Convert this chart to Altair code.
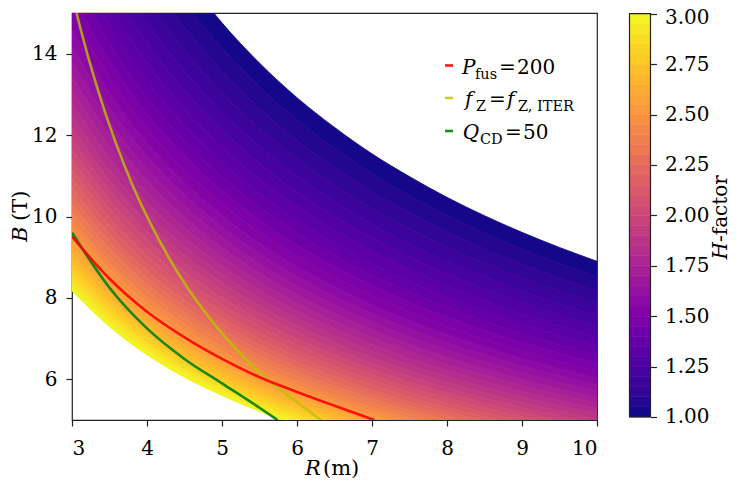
import altair as alt
import numpy as np
import pandas as pd

FONT = "DejaVu Serif"

# ---- contour field: iso-H boundaries (B in T at R in m)
R_grid = [3.0, 3.5, 4.0, 4.5, 5.0, 5.5, 6.0, 6.5, 7.0, 7.5, 8.0, 8.5, 9.0, 9.5, 10.0]
B_at_H1 = [21.43, 19.15, 17.37, 15.94, 14.76, 13.77, 12.92, 12.19, 11.54, 10.98, 10.47, 10.02, 9.61, 9.24, 8.90]
B_at_H3 = [8.17, 7.29, 6.60, 6.05, 5.60, 5.21, 4.89, 4.61, 4.36, 4.14, 3.95, 3.78, 3.62, 3.48, 3.35]
H_levels = [round(1.0 + 0.05 * i, 2) for i in range(41)]

# ---- constraint curves
Pfus_R = [3.0, 3.5, 4.0, 4.5, 5.0, 5.5, 6.0, 6.5, 7.03]
Pfus_B = [9.51, 8.47, 7.66, 7.03, 6.50, 6.05, 5.69, 5.35, 5.0]
fZ_R = [3.06, 3.2, 3.4, 3.6, 3.8, 4.0, 4.3, 4.6, 4.9, 5.2, 5.5, 5.8, 6.05, 6.32]
fZ_B = [15.0, 14.02, 12.79, 11.73, 10.80, 10.0, 8.96, 8.09, 7.35, 6.72, 6.17, 5.72, 5.37, 5.0]
QCD_R = [3.0, 3.5, 4.0, 4.5, 5.0, 5.5, 5.74]
QCD_B = [9.6, 8.25, 7.25, 6.5, 5.9, 5.3, 5.0]

x_ticks = [3, 4, 5, 6, 7, 8, 9, 10]
y_ticks = [6, 8, 10, 12, 14]
cb_ticks = [1.0, 1.25, 1.5, 1.75, 2.0, 2.25, 2.5, 2.75, 3.0]

# ---- build band table
lnB1 = np.log(np.array(B_at_H1))
lnB3 = np.log(np.array(B_at_H3))


def iso(h):
    w = np.log(h) / np.log(3.0)
    return np.exp(lnB1 - w * (lnB1 - lnB3))


rows = []
for lo, hi in zip(H_levels[:-1], H_levels[1:]):
    top, bot = iso(lo), iso(hi)
    for r, t, b in zip(R_grid, top, bot):
        rows.append({"R": r, "top": t, "bot": b, "band": lo, "mid": (lo + hi) / 2})
bands_df = pd.DataFrame(rows)

cb_df = pd.DataFrame({"lo": H_levels[:-1], "hi": H_levels[1:],
                      "mid": [(a + b) / 2 for a, b in zip(H_levels[:-1], H_levels[1:])]})

W, H = 525, 407
xs = alt.Scale(domain=[3, 10], nice=False, zero=False)
ys = alt.Scale(domain=[5, 15], nice=False, zero=False)
hs = alt.Scale(domain=[0.985, 3.0035], nice=False, zero=False)
cs = alt.Scale(scheme="plasma", domain=[1, 3])

x_axis = alt.Axis(values=x_ticks, format="d", title=None, labelPadding=12)
y_axis = alt.Axis(values=y_ticks, format="d", title=None, labelPadding=9)
cb_axis = alt.Axis(orient="right", offset=53.5, values=cb_ticks, format=".2f",
                   title=None, labelPadding=8,
                   labelOffset=alt.ExprRef(expr="datum.value > 2.99 ? 4 : 0"))

bands = alt.Chart(bands_df).mark_area(clip=True, interpolate="monotone", strokeWidth=0.8).encode(
    x=alt.X("R:Q", scale=xs, axis=x_axis),
    y=alt.Y("top:Q", scale=ys, axis=y_axis, stack=None),
    y2="bot:Q",
    color=alt.Color("mid:Q", scale=cs, legend=None),
    stroke=alt.Stroke("mid:Q", scale=cs, legend=None),
    detail="band:Q",
)


def curve(Rs, Bs, color, opacity):
    df = pd.DataFrame({"R": Rs, "B": Bs})
    return alt.Chart(df).mark_line(clip=True, interpolate="monotone", color=color,
                                   strokeWidth=2.6, opacity=opacity).encode(
        x=alt.X("R:Q", scale=xs), y=alt.Y("B:Q", scale=ys))


l_red = curve(Pfus_R, Pfus_B, "#ff0000", 0.9)
l_yel = curve(fZ_R, fZ_B, "#bfbf00", 0.8)
l_grn = curve(QCD_R, QCD_B, "#008000", 0.9)


def txt(s, x, y, size=20, italic=False, angle=0):
    return alt.Chart(pd.DataFrame({"t": [s]})).mark_text(
        align="left", baseline="alphabetic", font=FONT, fontSize=size,
        fontStyle="italic" if italic else "normal", angle=angle, color="black"
    ).encode(text="t:N", x=alt.value(x), y=alt.value(y))


def dash(x0, x1, y, color, opacity):
    return alt.Chart(pd.DataFrame({"a": [0]})).mark_rule(
        color=color, strokeWidth=2.6, opacity=opacity
    ).encode(x=alt.value(x0), x2=alt.value(x1), y=alt.value(y))


SUB = 14.5
OX, OY = 72, 13  # page position of the plot origin, used to convert positions
texts = [
    dash(445 - OX, 453 - OX, 65.5 - OY, "#ff0000", 0.9),
    txt("P", 462 - OX, 73.5 - OY, italic=True),
    txt("fus", 475 - OX, 78.5 - OY, size=SUB),
    txt("=", 499 - OX, 73.5 - OY),
    txt("200", 517 - OX, 73.5 - OY),
    dash(445 - OX, 453 - OX, 98 - OY, "#bfbf00", 0.8),
    txt("f", 465 - OX, 106 - OY, italic=True),
    txt("Z", 476 - OX, 111 - OY, size=SUB),
    txt("=", 489 - OX, 106 - OY),
    txt("f", 507 - OX, 106 - OY, italic=True),
    txt("Z, ITER", 518 - OX, 111 - OY, size=SUB),
    dash(445 - OX, 453 - OX, 131 - OY, "#008000", 0.9),
    txt("Q", 462.7 - OX, 139 - OY, italic=True),
    txt("CD", 480 - OX, 144 - OY, size=SUB),
    txt("=", 505 - OX, 139 - OY),
    txt("50", 523 - OX, 139 - OY),
    # axis titles
    txt("R", 305 - OX, 475 - OY, size=21, italic=True),
    txt("(m)", 323 - OX, 475 - OY, size=21),
    txt("B", 27 - OX, 242 - OY, size=21, italic=True, angle=270),
    txt("(T)", 27 - OX, 221 - OY, size=21, angle=270),
    txt("H", 727 - OX, 259.5 - OY, italic=True, angle=270),
    txt("-factor", 727 - OX, 242 - OY, angle=270),
]

main = alt.layer(bands, l_yel, l_grn, l_red, *texts)

cbar = alt.Chart(cb_df).mark_rect(strokeWidth=0.6).encode(
    x=alt.value(557.5), x2=alt.value(578.5),
    y=alt.Y("lo:Q", scale=hs, axis=cb_axis),
    y2="hi:Q",
    color=alt.Color("mid:Q", scale=cs, legend=None),
    stroke=alt.Stroke("mid:Q", scale=cs, legend=None),
)
cb_frame = alt.Chart(pd.DataFrame({"lo": [1.0], "hi": [3.0]})).mark_rect(
    fillOpacity=0, stroke="#222", strokeWidth=1.2
).encode(
    x=alt.value(557.5), x2=alt.value(578.5),
    y=alt.Y("lo:Q", scale=hs, axis=cb_axis),
    y2="hi:Q",
)
cb = alt.layer(cbar, cb_frame)

chart = alt.layer(main, cb).resolve_scale(y="independent").properties(
    width=W, height=H,
    padding={"left": 64, "top": 5, "right": 136, "bottom": 60},
    autosize=alt.AutoSizeParams(type="none"),
).configure_view(
    stroke="#222", strokeWidth=1.2
).configure_axis(
    labelFont=FONT, labelFontSize=20, labelColor="black",
    tickColor="#222", tickWidth=1.2, tickSize=6, domain=False, grid=False,
).configure_text(font=FONT)

chart.save("out.html", embed_options={"renderer": "svg", "actions": False})
